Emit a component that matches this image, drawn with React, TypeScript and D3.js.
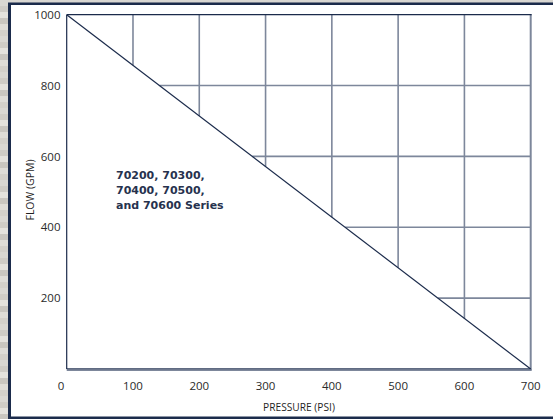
import React from "react";
import * as d3 from "d3";

const xTicks = [0, 100, 200, 300, 400, 500, 600, 700];
const yTicks = [200, 400, 600, 800, 1000];
const verticalGrid = [100, 200, 300, 400, 500, 600];
const horizontalGrid = [200, 400, 600, 800];
const diagonal = [
  { p: 0, f: 1000 },
  { p: 700, f: 0 },
];
const annotationLines = ["70200, 70300,", "70400, 70500,", "and 70600 Series"];
const stripeShades = ["#d9d7d2", "#cfccc6", "#e4e2dd", "#c9c6c0", "#dedcd7", "#d3d0ca"];

const W = 553;
const H = 419;
const NAVY = "#1b2b4b";
const GRID = "#7d879b";

export default function App() {
  const x = d3.scaleLinear().domain([0, 700]).range([66.7, 530.7]);
  const y = d3.scaleLinear().domain([0, 1000]).range([369, 14.7]);
  const slope = (p: number) => 1000 - (p * 1000) / 700;
  const invSlope = (f: number) => ((1000 - f) * 700) / 1000;
  const line = d3
    .line<{ p: number; f: number }>()
    .x((d) => x(d.p))
    .y((d) => y(d.f));

  const stripes = d3.range(0, H, 6);

  return (
    <svg
      width={W}
      height={H}
      style={{ position: "absolute", left: 0, top: 0, display: "block" }}
      fontFamily="'Open Sans', sans-serif"
    >
      {stripes.map((s, i) => (
        <rect key={i} x={0} y={s} width={W} height={6} fill={stripeShades[i % stripeShades.length]} />
      ))}
      <rect x={8} y={2.5} width={W} height={H - 2.5} fill={NAVY} />
      <rect x={11} y={5} width={W} height={411.5} fill="#ffffff" />

      {verticalGrid.map((p) => (
        <line
          key={"v" + p}
          x1={x(p)}
          x2={x(p)}
          y1={y(1000)}
          y2={y(slope(p))}
          stroke={GRID}
          strokeWidth={1.6}
        />
      ))}
      {horizontalGrid.map((f) => (
        <line
          key={"h" + f}
          x1={x(invSlope(f))}
          x2={x(700)}
          y1={y(f)}
          y2={y(f)}
          stroke={GRID}
          strokeWidth={1.6}
        />
      ))}
      <line x1={x(700)} x2={x(700)} y1={y(1000)} y2={y(0) + 1} stroke={GRID} strokeWidth={2} />
      <line x1={x(0)} x2={x(700) + 1} y1={y(1000)} y2={y(1000)} stroke={NAVY} strokeWidth={1.2} />
      <line x1={x(0)} x2={x(700) + 1} y1={y(0) + 0.8} y2={y(0) + 0.8} stroke={GRID} strokeWidth={2.2} />
      <line x1={x(0)} x2={x(700)} y1={y(0) - 0.3} y2={y(0) - 0.3} stroke={NAVY} strokeWidth={0.8} />
      <line x1={x(0)} x2={x(0)} y1={y(1000)} y2={y(0)} stroke={NAVY} strokeWidth={1.2} />
      <path d={line(diagonal) || ""} fill="none" stroke={NAVY} strokeWidth={1.2} />

      {yTicks.map((f) => (
        <text
          key={"yt" + f}
          x={60.5}
          y={y(f)}
          dy="0.36em"
          textAnchor="end"
          fontSize={11.5}
          fill="#2a2a2a"
        >
          {f}
        </text>
      ))}
      {xTicks.map((p) => (
        <text
          key={"xt" + p}
          x={p === 0 ? 61 : x(p)}
          y={389.5}
          textAnchor="middle"
          fontSize={11.5}
          fill="#2a2a2a"
        >
          {p}
        </text>
      ))}

      <text x={299} y={411} textAnchor="middle" fontSize={10.2} fill="#1f1f1f">
        PRESSURE (PSI)
      </text>
      <text
        transform="translate(33.5,190) rotate(-90)"
        textAnchor="middle"
        fontSize={10.5}
        fill="#1f1f1f"
      >
        FLOW (GPM)
      </text>

      {annotationLines.map((t, i) => (
        <text
          key={"a" + i}
          x={116}
          y={178.5 + i * 15}
          fontSize={11}
          fontWeight="bold"
          fontFamily="'DejaVu Sans', sans-serif"
          fill="#27324e"
        >
          {t}
        </text>
      ))}
    </svg>
  );
}
